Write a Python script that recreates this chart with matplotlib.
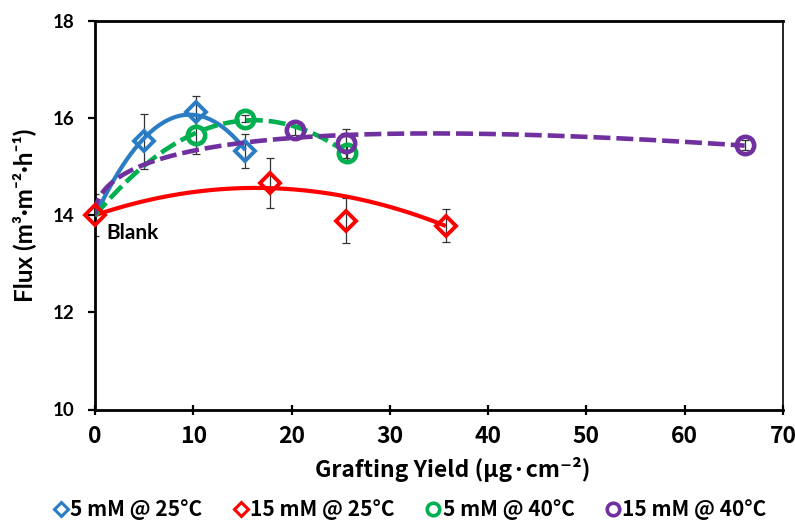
import numpy as np
import matplotlib
matplotlib.use("Agg")
import matplotlib.pyplot as plt
from matplotlib.lines import Line2D

# ---------------- data ----------------
labels = ["5 mM @ 25°C", "15 mM @ 25°C", "5 mM @ 40°C", "15 mM @ 40°C"]

blue_x = [0, 5.0, 10.25, 15.3]
blue_y = [14.0, 15.52, 16.13, 15.32]
blue_err = [0.43, 0.56, 0.32, 0.35]

red_x = [0, 17.85, 25.5, 35.7]
red_y = [14.0, 14.66, 13.89, 13.78]
red_err = [0.43, 0.51, 0.46, 0.34]
red_fit_weights = [10, 2, 1, 10]

green_x = [0, 10.3, 15.25, 25.6]
green_y = [14.0, 15.66, 15.99, 15.28]
green_err = [0.43, 0.40, 0.08, 0.14]

purple_x = [0, 20.35, 25.5, 66.1]
purple_y = [14.0, 15.76, 15.48, 15.45]
purple_err = [0.43, 0.10, 0.30, 0.10]

blank_label = "Blank"

# ---------------- style ----------------
CJK = ['Noto Sans CJK JP', 'DejaVu Sans']
WIDE = ['Lato', 'DejaVu Sans']

C_BLUE = '#2A7DC4'
C_RED = '#FF0000'
C_GREEN = '#00B050'
C_PURPLE = '#7030A0'

fig = plt.figure(figsize=(7.95, 5.21), dpi=100)
AX_L, AX_R, AX_T, AX_B = 95, 783, 21, 409.5
ax = fig.add_axes([AX_L/795, 1-AX_B/521, (AX_R-AX_L)/795, (AX_B-AX_T)/521])


def fit_poly(x, y, w=None, deg=2):
    x = np.asarray(x, float); y = np.asarray(y, float)
    c = np.polyfit(x, y, deg, w=w)
    xx = np.linspace(x.min(), x.max(), 300)
    return xx, np.polyval(c, xx)


def fit_sqrt(x, y, w=None):
    x = np.asarray(x, float); y = np.asarray(y, float)
    A = np.column_stack([np.ones_like(x), np.sqrt(x), x])
    c, *_ = np.linalg.lstsq(A, y, rcond=None)
    xx = np.linspace(x.min(), x.max(), 300)
    return xx, c[0] + c[1]*np.sqrt(xx) + c[2]*xx


ekw = dict(fmt='none', ecolor='#333333', elinewidth=0.9, capsize=3, capthick=0.9, zorder=2)

series = [
    (blue_x, blue_y, blue_err, C_BLUE, 'D', '-', fit_poly, None),
    (red_x, red_y, red_err, C_RED, 'D', '-', fit_poly, red_fit_weights),
    (green_x, green_y, green_err, C_GREEN, 'o', '--', fit_poly, None),
    (purple_x, purple_y, purple_err, C_PURPLE, 'o', '--', fit_sqrt, None),
]

for i, (x, y, e, col, mk, ls, fitter, w) in enumerate(series):
    if i == 1:
        ax.errorbar(x, y, yerr=e, **ekw)
    else:
        ax.errorbar(x[1:], y[1:], yerr=e[1:], **ekw)
    xs, ys = (x, y) if i == 1 else (x[1:], y[1:])
    if mk == 'D':
        ax.plot(xs, ys, linestyle='none', marker='D', ms=10.3, mew=2.8,
                mec=col, mfc='none', zorder=5 if i == 1 else 3, clip_on=False)
    else:
        ax.plot(xs, ys, linestyle='none', marker='o', ms=12.5, mew=3.3,
                mec=col, mfc='none', zorder=3, clip_on=False)
    xx, yy = fitter(x, y, w)
    if ls == '-':
        ax.plot(xx, yy, color=col, lw=3.0, solid_capstyle='butt', zorder=3)
    else:
        ax.plot(xx, yy, color=col, lw=3.3, dashes=[3.7, 1.3],
                dash_capstyle='butt', zorder=3)

ax.text(1.2, 13.64, blank_label, ha='left', va='center', fontsize=15,
        fontweight='bold', family=WIDE, zorder=6)

# ---------------- axes ----------------
ax.set_xlim(0, 70)
ax.set_ylim(10, 18)
ax.set_xticks(np.arange(0, 71, 10))
ax.set_yticks(np.arange(10, 19, 2))

for s in ['left', 'bottom', 'top']:
    ax.spines[s].set_linewidth(2.0)
ax.spines['right'].set_linewidth(1.2)

ax.tick_params(axis='y', direction='out', length=5, width=1.6, pad=10)
ax.tick_params(axis='x', direction='inout', length=7, width=1.6, pad=7.5)
ax.tick_params(top=False, right=False)

for t in ax.get_yticklabels():
    t.set_family(WIDE); t.set_fontweight('bold'); t.set_fontsize(13.5)
for t in ax.get_xticklabels():
    t.set_family(CJK); t.set_fontweight('bold'); t.set_fontsize(16.5)

ax.set_xlabel("Grafting Yield (µg·cm⁻²)", family=CJK, fontweight='bold', fontsize=16.5)
ax.xaxis.set_label_coords((453-AX_L)/(AX_R-AX_L), -(469-AX_B)/(AX_B-AX_T))
ax.xaxis.label.set_va('center')
ax.set_ylabel("Flux (m³·m⁻²·h⁻¹)", family=WIDE, fontweight='bold',
              fontsize=17.5, labelpad=12)

# ---------------- legend ----------------
handles = []
for (x, y, e, col, mk, ls, fitter, w), lab in zip(series, labels):
    if mk == 'D':
        h = Line2D([], [], linestyle='none', marker='D', ms=7, mew=2.2, mec=col, mfc='white')
    else:
        h = Line2D([], [], linestyle='none', marker='o', ms=9, mew=2.6, mec=col, mfc='white')
    handles.append(h)

leg = fig.legend(handles, labels, loc='center', bbox_to_anchor=(410/795, 1-510/521),
                 ncol=4, frameon=False, handlelength=0.7, handletextpad=0.1,
                 columnspacing=1.5, prop={'family': CJK, 'weight': 'bold', 'size': 15})

fig.savefig("out.png", dpi=100)
